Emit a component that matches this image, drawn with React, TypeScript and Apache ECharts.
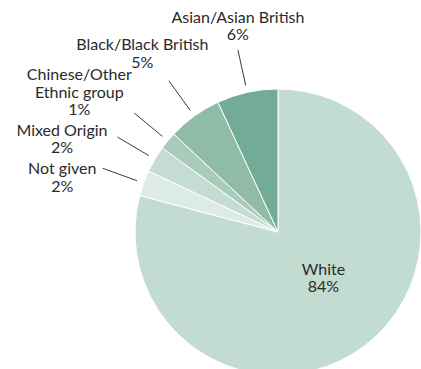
import React, { useEffect, useRef } from 'react';
import * as echarts from 'echarts';

// Categories in drawing order (clockwise from 12 o'clock)
const categories = [
  'White',
  'Not given',
  'Mixed Origin',
  'Chinese/Other\nEthnic group',
  'Black/Black British',
  'Asian/Asian British',
];
// Angular share of each slice
const sliceShares = [79.1, 2.9, 3.0, 2.0, 6.1, 6.9];
// Percentage labels printed on the chart
const percentLabels = ['84%', '2%', '2%', '1%', '5%', '6%'];

const sliceColors = ['#c3dcd2', '#dcebe5', '#c4dcd2', '#a8ccbc', '#8fbba8', '#72ac97'];
// Label block centre offset relative to the outer end of its leader line (or own spot when inside)
const labelOffsets: number[][] = [
  [0, -14],
  [-40.5, 8],
  [-55.5, 1],
  [-55, -22],
  [-26.5, -28.5],
  [0, -25],
];
const LINE_GAP = 7;

export default function App() {
  const ref = useRef<HTMLDivElement>(null);
  useEffect(() => {
    document.body.style.margin = '0';
    const chart = echarts.init(ref.current!, null, { renderer: 'svg' });
    const data = categories.map((name, i) => ({
      name,
      value: sliceShares[i],
      itemStyle: { color: sliceColors[i] },
      ...(i === 0
        ? { label: { position: 'inside' }, labelLine: { show: false } }
        : {}),
    }));
    chart.setOption({
      animation: false,
      backgroundColor: '#ffffff',
      series: [
        {
          type: 'pie',
          center: [278, 232],
          radius: 143,
          startAngle: 90,
          clockwise: true,
          avoidLabelOverlap: false,
          silent: true,
          data,
          itemStyle: { borderColor: '#ffffff', borderWidth: 1 },
          label: {
            show: true,
            position: 'outside',
            formatter: (p: any) => `${p.name}\n${percentLabels[p.dataIndex]}`,
            fontFamily: 'Lato',
            fontSize: 16,
            lineHeight: 17.5,
            color: '#2a2a2a',
            align: 'center',
          },
          labelLine: {
            show: true,
            length: 43.5,
            length2: 0,
            smooth: false,
            lineStyle: { color: '#2e3d4f', width: 1 },
          },
          labelLayout: (params: any) => {
            const i = params.dataIndex;
            const [dx, dy] = labelOffsets[i];
            const pts = params.labelLinePoints;
            if (i === 0 || !pts) {
              const r = params.labelRect;
              return {
                x: r.x + r.width / 2 + dx,
                y: r.y + r.height / 2 + dy,
                align: 'center',
                verticalAlign: 'middle',
              };
            }
            const p1 = pts[0];
            const p2 = pts[1];
            const vx = p2[0] - p1[0];
            const vy = p2[1] - p1[1];
            const len = Math.hypot(vx, vy) || 1;
            const start = [p1[0] + (vx / len) * LINE_GAP, p1[1] + (vy / len) * LINE_GAP];
            return {
              x: p2[0] + dx,
              y: p2[1] + dy,
              align: 'center',
              verticalAlign: 'middle',
              labelLinePoints: [start, [p2[0], p2[1]], [p2[0], p2[1]]],
            };
          },
        },
      ],
    });
    return () => chart.dispose();
  }, []);
  return <div ref={ref} style={{ width: 421, height: 369 }} />;
}
